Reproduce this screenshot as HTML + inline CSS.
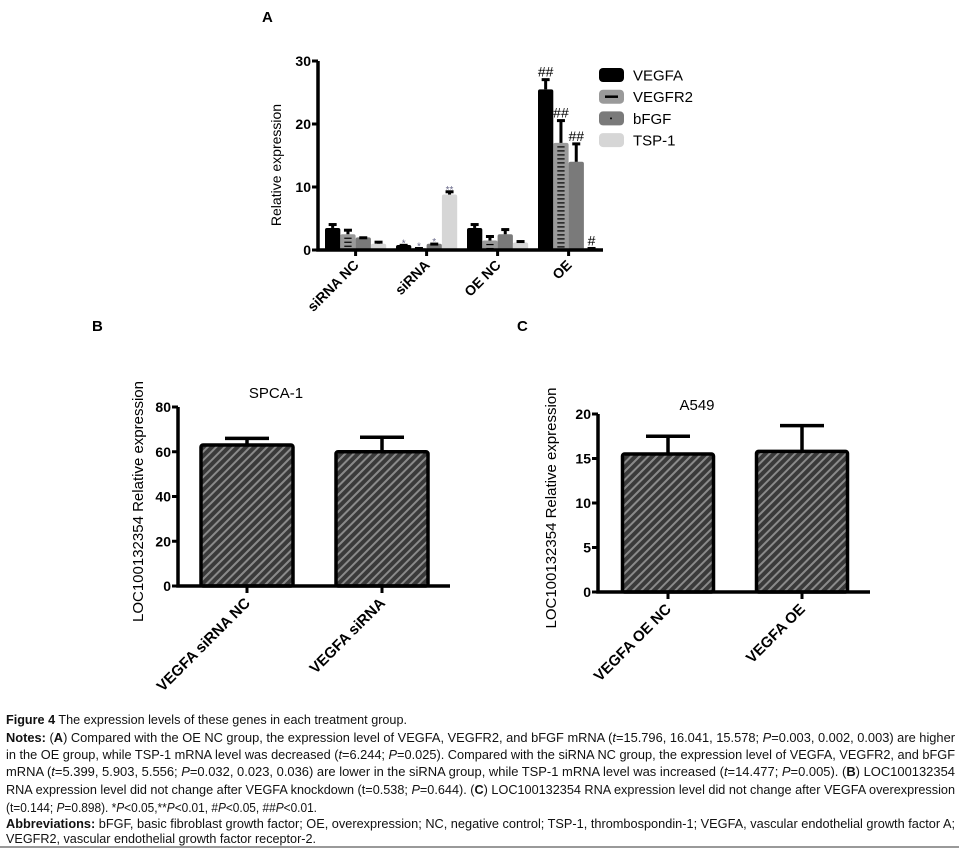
<!DOCTYPE html>
<html><head><meta charset="utf-8"><style>
html,body{margin:0;padding:0;background:#fff;}
svg{display:block;font-family:"Liberation Sans",Arial,sans-serif;}
</style></head><body>
<svg id="fig" width="959" height="852" viewBox="0 0 959 852">
<defs>
<pattern id="hatch" patternUnits="userSpaceOnUse" width="6" height="6" patternTransform="rotate(45)">
<rect width="6" height="6" fill="#3a3a3a"/><rect x="0" y="0" width="2" height="6" fill="#8a8a8a"/>
</pattern>
</defs>
<g id="chartA"></g>
<g id="chartB"></g>
<g id="chartC"></g>
<g id="caption" font-size="13" fill="#111">
<text x="6" y="724" textLength="401" lengthAdjust="spacingAndGlyphs"><tspan font-weight="bold">Figure 4</tspan> The expression levels of these genes in each treatment group.</text>
<text x="6" y="742" textLength="949" lengthAdjust="spacingAndGlyphs"><tspan font-weight="bold">Notes:</tspan> (<tspan font-weight="bold">A</tspan>) Compared with the OE NC group, the expression level of VEGFA, VEGFR2, and bFGF mRNA (<tspan font-style="italic">t</tspan>=15.796, 16.041, 15.578; <tspan font-style="italic">P</tspan>=0.003, 0.002, 0.003) are higher</text>
<text x="6" y="759" textLength="949" lengthAdjust="spacingAndGlyphs">in the OE group, while TSP-1 mRNA level was decreased (<tspan font-style="italic">t</tspan>=6.244; <tspan font-style="italic">P</tspan>=0.025). Compared with the siRNA NC group, the expression level of VEGFA, VEGFR2, and bFGF</text>
<text x="6" y="776" textLength="949" lengthAdjust="spacingAndGlyphs">mRNA (<tspan font-style="italic">t</tspan>=5.399, 5.903, 5.556; <tspan font-style="italic">P</tspan>=0.032, 0.023, 0.036) are lower in the siRNA group, while TSP-1 mRNA level was increased (<tspan font-style="italic">t</tspan>=14.477; <tspan font-style="italic">P</tspan>=0.005). (<tspan font-weight="bold">B</tspan>) LOC100132354</text>
<text x="6" y="794" textLength="949" lengthAdjust="spacingAndGlyphs">RNA expression level did not change after VEGFA knockdown (t=0.538; <tspan font-style="italic">P</tspan>=0.644). (<tspan font-weight="bold">C</tspan>) LOC100132354 RNA expression level did not change after VEGFA overexpression</text>
<text x="6" y="812" textLength="311" lengthAdjust="spacingAndGlyphs">(t=0.144; <tspan font-style="italic">P</tspan>=0.898). *<tspan font-style="italic">P</tspan>&lt;0.05,**<tspan font-style="italic">P</tspan>&lt;0.01, #<tspan font-style="italic">P</tspan>&lt;0.05, ##<tspan font-style="italic">P</tspan>&lt;0.01.</text>
<text x="6" y="828" textLength="949" lengthAdjust="spacingAndGlyphs"><tspan font-weight="bold">Abbreviations:</tspan> bFGF, basic fibroblast growth factor; OE, overexpression; NC, negative control; TSP-1, thrombospondin-1; VEGFA, vascular endothelial growth factor A;</text>
<text x="6" y="843" textLength="310" lengthAdjust="spacingAndGlyphs">VEGFR2, vascular endothelial growth factor receptor-2.</text>
</g>
<line x1="0" y1="847" x2="959" y2="847" stroke="#333" stroke-width="1"/>
</svg>
<script>
// ---- Chart A data ----
const aGroups = ["siRNA NC","siRNA","OE NC","OE"];
const aSeries = ["VEGFA","VEGFR2","bFGF","TSP-1"];
const aVEGFA = [3.5, 0.8, 3.5, 25.5];
const aVEGFR2 = [2.5, 0.3, 1.5, 17];
const aBFGF = [2.0, 1.0, 2.5, 14];
const aTSP1 = [1.0, 8.8, 1.2, 0.3];
const aErrVEGFA = [4.2, 0.9, 4.2, 27.2];
const aErrVEGFR2 = [3.3, 0.4, 2.3, 20.7];
const aErrBFGF = [2.1, 1.1, 3.4, 17.0];
const aErrTSP1 = [1.4, 9.4, 1.5, 0.4];
const aMarks = [["","","",""],["*","*","*","**"],["","","",""],["##","##","##","#"]];
const aTicks = [0,10,20,30];
// ---- Chart B data ----
const bCats = ["VEGFA siRNA NC","VEGFA siRNA"];
const bVals = [63, 60];
const bErr = [66, 66.5];
const bTicks = [0,20,40,60,80];
// ---- Chart C data ----
const cCats = ["VEGFA OE NC","VEGFA OE"];
const cVals = [15.5, 15.8];
const cErr = [17.5, 18.7];
const cTicks = [0,5,10,15,20];

const NS="http://www.w3.org/2000/svg";
function mk(parent,tag,attrs,txt){const e=document.createElementNS(NS,tag);for(const k in attrs)e.setAttribute(k,attrs[k]);if(txt!==undefined)e.textContent=txt;parent.appendChild(e);return e;}

// ===== Chart A =====
(function(){
  const g=document.getElementById('chartA');
  const x0=318,y0=250,yTop=61,xEnd=603,max=30;
  const y=v=>y0-(v/max)*(y0-yTop);
  const bw=15.3, step=71, first=325;
  const fills=["#000","#9a9a9a","#7a7a7a","#d6d6d6"];
  const vals=[aVEGFA,aVEGFR2,aBFGF,aTSP1];
  const errs=[aErrVEGFA,aErrVEGFR2,aErrBFGF,aErrTSP1];
  const t=mk(g,'text',{x:262,y:22,'font-size':15,'font-weight':'bold'},'A');
  
  
  aGroups.forEach((grp,gi)=>{
    for(let si=0;si<4;si++){
      const xl=first+gi*step+si*bw, v=vals[si][gi];
      const r=mk(g,'rect',{x:xl,y:y(v),width:bw,height:y0-y(v),fill:fills[si],rx:2});
      
      
      if(si===1){
        for(let yy=y(v)+4; yy<y0-1; yy+=4){
          const l=mk(g,'line',{x1:xl+4,x2:xl+bw-4,y1:yy,y2:yy,stroke:'#000','stroke-width':1.2});
          
          
        }
      }
      const cx=xl+bw/2, e=errs[si][gi];
      const el=mk(g,'line',{x1:cx,x2:cx,y1:y(v),y2:y(e),stroke:'#000','stroke-width':3});
      
      
      const ec=mk(g,'line',{x1:cx-4,x2:cx+4,y1:y(e)+1,y2:y(e)+1,stroke:'#000','stroke-width':3});
      
      
      const m=aMarks[gi][si];
      if(m){
        const small=m.indexOf('*')>=0;
        const mt=mk(g,'text',{x:cx,y:y(e)-(small?-2:2),'text-anchor':'middle','font-size':small?10:14,fill:small?'#6a6a8a':'#000'},m);
        
        
      }
    }
    const tx=first+gi*step+2*bw;
    const tk=mk(g,'line',{x1:tx,x2:tx,y1:y0,y2:y0+6,stroke:'#000','stroke-width':3});
    
    
    const lb=mk(g,'text',{x:tx+4,y:y0+16,'text-anchor':'end','font-size':14,'font-weight':'bold',transform:`rotate(-45 ${tx+4} ${y0+16})`},grp);
    
    
  });
  const ax=mk(g,'path',{d:`M${x0} ${yTop} V${y0} H${xEnd}`,stroke:'#000','stroke-width':3.5,fill:'none'});
  
  
  aTicks.forEach(v=>{
    const tk=mk(g,'line',{x1:x0-6,x2:x0,y1:y(v),y2:y(v),stroke:'#000','stroke-width':3});
    
    
    const tl=mk(g,'text',{x:x0-7,y:y(v)+5,'text-anchor':'end','font-size':14,'font-weight':'bold'},String(v));
    
    
  });
  const yl=mk(g,'text',{x:281,y:165,'text-anchor':'middle','font-size':14,transform:'rotate(-90 281 165)'},'Relative expression');
  
  
  aSeries.forEach((s,i)=>{
    const yy=75+i*21.7;
    const sw=mk(g,'rect',{x:599,y:yy-7,width:25,height:14,rx:4,fill:fills[i]});
    
    
    if(i===1){const l=mk(g,'line',{x1:605,x2:618,y1:yy,y2:yy,stroke:'#000','stroke-width':2.5});}
    if(i===2){const l=mk(g,'circle',{cx:611,cy:yy,r:1,fill:'#000'});}
    const lt=mk(g,'text',{x:633,y:yy+5.5,'font-size':15},s);
    
    
  });
})();

// ===== Charts B & C =====
function simple(id,cfg,cats,vals,errs,ticks){
  const g=document.getElementById(id);
  const {x0,y0,yTop,xEnd,max,centers,bw,title,tx,ty,panel,px,py,ylx}=cfg;
  const y=v=>y0-(v/max)*(y0-yTop);
  const pl=mk(g,'text',{x:px,y:py,'font-size':15,'font-weight':'bold'},panel);
  
  
  const tt=mk(g,'text',{x:tx,y:ty,'text-anchor':'middle','font-size':15},title);
  
  
  cats.forEach((c,i)=>{
    const cx=centers[i], v=vals[i], e=errs[i];
    const el=mk(g,'line',{x1:cx,x2:cx,y1:y(v),y2:y(e),stroke:'#000','stroke-width':3.5});
    
    
    const ec=mk(g,'line',{x1:cx-22,x2:cx+22,y1:y(e),y2:y(e),stroke:'#000','stroke-width':3.5});
    
    
    const r=mk(g,'rect',{x:cx-bw/2,y:y(v),width:bw,height:y0-y(v),fill:'url(#hatch)',stroke:'#000','stroke-width':3.5,rx:2});
    
    
    const tk=mk(g,'line',{x1:cx,x2:cx,y1:y0,y2:y0+7,stroke:'#000','stroke-width':3});
    
    
    const lb=mk(g,'text',{x:cx+4,y:y0+18,'text-anchor':'end','font-size':15,'font-weight':'bold',transform:`rotate(-45 ${cx+4} ${y0+18})`},c);
    
    
  });
  const ax=mk(g,'path',{d:`M${x0} ${yTop} V${y0} H${xEnd}`,stroke:'#000','stroke-width':3.5,fill:'none'});
  
  
  ticks.forEach(v=>{
    const tk=mk(g,'line',{x1:x0-6,x2:x0,y1:y(v),y2:y(v),stroke:'#000','stroke-width':3});
    
    
    const tl=mk(g,'text',{x:x0-7,y:y(v)+5,'text-anchor':'end','font-size':14,'font-weight':'bold'},String(v));
    
    
  });
  const ym=(y0+yTop)/2+5;
  const yl=mk(g,'text',{x:ylx,y:ym,'text-anchor':'middle','font-size':15,transform:`rotate(-90 ${ylx} ${ym})`},'LOC100132354 Relative expression');
  
  
}
simple('chartB',{x0:178,y0:586,yTop:407,xEnd:450,max:80,centers:[247,382],bw:92,title:'SPCA-1',tx:276,ty:398,panel:'B',px:92,py:331,ylx:143},bCats,bVals,bErr,bTicks);
simple('chartC',{x0:598,y0:592,yTop:414,xEnd:870,max:20,centers:[668,802],bw:91,title:'A549',tx:697,ty:410,panel:'C',px:517,py:331,ylx:556},cCats,cVals,cErr,cTicks);
</script>
</body></html>
